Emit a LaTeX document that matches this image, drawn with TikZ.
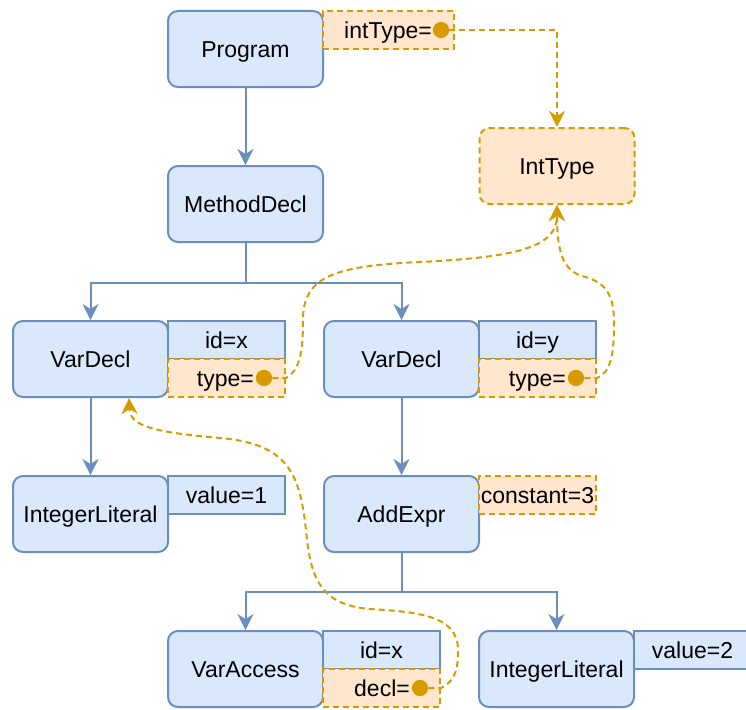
\documentclass[tikz,border=0pt]{standalone}
\usepackage{fontspec}
\setmainfont{Liberation Sans}
\usetikzlibrary{arrows.meta}
\definecolor{astfill}{HTML}{DAE8FC}
\definecolor{astline}{HTML}{6C8EBF}
\definecolor{reffill}{HTML}{FFE6CC}
\definecolor{refline}{HTML}{D79B00}
\tikzset{
  ast/.style={draw=astline, fill=astfill, line width=2pt, rounded corners=10pt,
    minimum width=155pt, minimum height=76pt, inner sep=0pt},
  refast/.style={ast, draw=refline, fill=reffill, dash pattern=on 6pt off 4pt},
  attr/.style={draw=astline, fill=astfill, line width=2pt,
    minimum width=117pt, minimum height=38pt, inner sep=0pt},
  refbox/.style={attr, draw=refline, fill=reffill, dash pattern=on 6pt off 4pt},
  lbl/.style={inner sep=0pt, anchor=east},
  refdot/.style={circle, fill=refline, draw=none, minimum size=12pt, inner sep=0pt},
  treeedge/.style={draw=astline, line width=2pt,
    -{Stealth[length=16pt, width=16pt, inset=5pt]}},
  treeline/.style={draw=astline, line width=2pt},
  refedge/.style={draw=refline, line width=2pt, dash pattern=on 6pt off 4pt,
    -{Stealth[length=16pt, width=16pt, inset=5pt]}},
}
\begin{document}
\begin{tikzpicture}[x=1pt, y=-1pt,
  font=\fontsize{23}{27}\selectfont, text height=16.3pt, text depth=0pt]
\useasboundingbox (0,0) rectangle (746,709);

% AST nodes
\node[ast] (prog) at (245.5,49) {Program};
\node[refast] (int) at (557,166) {IntType};
\node[ast] (md) at (245.5,204) {MethodDecl};
\node[ast] (vd1) at (90.5,359) {VarDecl};
\node[ast] (vd2) at (401.5,359) {VarDecl};
\node[ast] (il1) at (90.5,514) {IntegerLiteral};
\node[ast] (add) at (401.5,514) {AddExpr};
\node[ast] (va) at (245.5,669) {VarAccess};
\node[ast] (il2) at (556.5,669) {IntegerLiteral};

% attribute boxes
\node[refbox, minimum width=131pt] (progattr) at (388.5,30) {};
\node[lbl] (progattrlbl) at (432,30) {intType=};
\node[refdot] (progdot) at (441,30) {};

\node[attr] (vd1id) at (226.5,340) {id=x};
\node[refbox] (vd1ty) at (226.5,378) {};
\node[lbl] (vd1tylbl) at (254,378) {type=};
\node[refdot] (vd1dot) at (264,378) {};

\node[attr] (vd2id) at (537.5,340) {id=y};
\node[refbox] (vd2ty) at (537.5,378) {};
\node[lbl] (vd2tylbl) at (566,378) {type=};
\node[refdot] (vd2dot) at (576,378) {};

\node[attr] (il1val) at (226.5,495) {value=1};
\node[refbox] (addc) at (537.5,495) {constant=3};

\node[attr] (vaid) at (381.5,650) {id=x};
\node[refbox] (vadecl) at (381.5,688) {};
\node[lbl] (vadecllbl) at (410,688) {decl=};
\node[refdot] (vadot) at (420,688) {};

\node[attr] (il2val) at (692.5,650) {value=2};

% tree edges
\coordinate (j1) at (245.5,283);
\coordinate (j2) at (401.5,592);
\draw[treeedge] (prog) -- (md);
\draw[treeline] (md.south) -- (j1);
\draw[treeedge] (j1) -| (vd1.north);
\draw[treeedge] (j1) -| (vd2.north);
\draw[treeedge] (vd1) -- (il1);
\draw[treeedge] (vd2) -- (add);
\draw[treeline] (add.south) -- (j2);
\draw[treeedge] (j2) -| (va.north);
\draw[treeedge] (j2) -| (il2.north);

% reference edges
\draw[refedge] (progdot) -| (int.north);
\draw[refedge] (vd1dot) -- (vd1ty.east)
  .. controls (300,370) and (303,352) .. (303,320)
  .. controls (303,276) and (335,266) .. (420,262)
  .. controls (525,257) and (557,245) .. (int.south);
\draw[refedge] (vd2dot) -- (vd2ty.east)
  .. controls (611,372) and (614,355) .. (614,322)
  .. controls (614,288) and (600,281) .. (582,276)
  .. controls (563,270) and (557,252) .. (int.south);
\draw[refedge] (vadot) -- (vadecl.east)
  .. controls (457,680) and (458,666) .. (458,650)
  .. controls (458,616) and (420,612) .. (370,609)
  .. controls (322,605) and (312,580) .. (307,540)
  .. controls (301,480) and (294,444) .. (220,438)
  .. controls (152,432) and (130,426) .. (vd1.south -| 129,0);
\end{tikzpicture}
\end{document}
